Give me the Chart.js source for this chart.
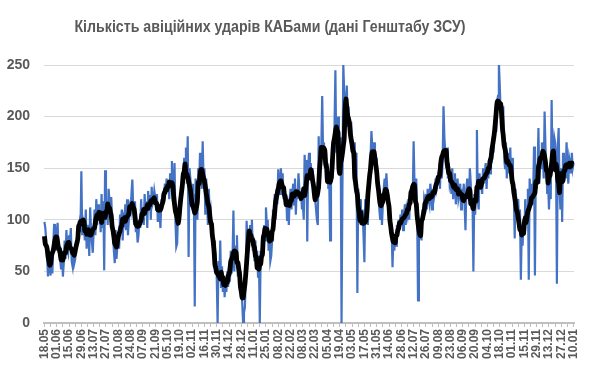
<!DOCTYPE html>
<html>
<head>
<meta charset="utf-8">
<script src="https://cdn.jsdelivr.net/npm/chart.js@4.4.1/dist/chart.umd.min.js"></script>
<style>
  body { margin: 0; background: #fff; }
  #wrap { position: relative; width: 590px; height: 376px; }
  #titulo {
    position: absolute; left: 0; width: 540px; top: 17px;
    text-align: center; font: bold 17px "Liberation Sans", sans-serif;
    color: #595959; white-space: nowrap;
    transform: scaleX(0.835); transform-origin: 270px 0;
  }
</style>
</head>
<body>
<div id="wrap">
  <div id="titulo">Кількість авіційних ударів КАБами (дані Генштабу ЗСУ)</div>
  <canvas id="myChart" width="590" height="376"></canvas>
</div>
<script>
// початок ряду та крок підписів
var startDate = Date.UTC(2024, 4, 18);
var tickEvery = 14;   // підпис кожні 14 днів
var markEvery = 7;    // засічки кожні 7 днів
var yTicks = [0, 50, 100, 150, 200, 250];

// кількість ударів КАБами по днях (оцінка з графіка)
var strikes = [
  98, 92, 80, 66, 45, 70, 55, 46, 62, 48, 75, 95, 96, 70,
  82, 97, 68, 75, 60, 52, 70, 45, 58, 80, 62, 90, 72, 68,
  85, 78, 92, 60, 55, 70, 58, 62, 80, 74, 90, 85, 95, 88,
  147, 85, 98, 92, 80, 110, 72, 88, 95, 65, 112, 90, 78, 68,
  90, 110, 85, 120, 95, 115, 100, 108, 88, 125, 92, 118, 51, 148,
  100, 112, 95, 130, 118, 105, 122, 98, 85, 70, 58, 90, 62, 75,
  88, 72, 105, 95, 110, 80, 102, 98, 115, 90, 120, 85, 100, 112,
  108, 125, 139, 112, 96, 118, 88, 95, 78, 85, 100, 92, 120, 98,
  110, 95, 125, 105, 118, 92, 128, 110, 124, 100, 132, 115, 118, 128,
  122, 110, 125, 98, 115, 105, 92, 120, 110, 128, 118, 135, 125, 140,
  128, 135, 120, 145, 132, 157, 118, 125, 155, 100, 74, 77, 110, 95,
  102, 118, 130, 145, 138, 160, 150, 170, 135, 181, 64, 150, 140, 125,
  135, 110, 125, 16, 140, 120, 100, 150, 135, 165, 145, 130, 176, 140,
  150, 105, 140, 120, 95, 130, 105, 110, 92, 85, 70, 80, 55, 60,
  45, 0, 60, 40, 80, 35, 55, 30, 45, 25, 40, 30, 50, 35,
  55, 40, 70, 48, 62, 109, 50, 75, 60, 85, 45, 55, 40, 50,
  35, 20, 0, 10, 15, 40, 99, 75, 90, 80, 95, 85, 100, 70,
  75, 60, 80, 55, 70, 45, 65, 0, 70, 60, 85, 75, 95, 80,
  112, 95, 100, 70, 85, 60, 65, 80, 110, 95, 125, 100, 130, 115,
  149, 140, 125, 150, 135, 145, 120, 130, 115, 125, 100, 118, 95, 120,
  130, 110, 125, 135, 115, 140, 105, 130, 120, 145, 130, 118, 125, 110,
  115, 100, 163, 140, 158, 79, 150, 165, 145, 155, 140, 150, 135, 125,
  120, 110, 100, 95, 181, 130, 150, 170, 220, 165, 175, 150, 160, 145,
  155, 130, 140, 80, 150, 160, 140, 175, 190, 245, 165, 180, 200, 175,
  150, 180, 0, 130, 250, 225, 215, 200, 230, 190, 210, 185, 175, 195,
  170, 160, 150, 175, 140, 165, 29, 130, 110, 120, 95, 100, 110, 85,
  59, 120, 105, 110, 95, 130, 150, 160, 186, 170, 155, 175, 165, 150,
  160, 140, 125, 110, 100, 120, 95, 115, 130, 140, 125, 145, 130, 120,
  110, 100, 95, 90, 54, 85, 70, 80, 75, 95, 85, 100, 90, 105,
  95, 110, 90, 100, 115, 95, 110, 105, 120, 100, 125, 115, 130, 120,
  176, 135, 125, 140, 110, 22, 100, 95, 85, 80, 110, 100, 120, 115,
  125, 110, 130, 120, 115, 135, 125, 110, 130, 120, 125, 140, 130, 135,
  145, 150, 130, 160, 140, 155, 210, 180, 165, 150, 170, 140, 155, 135,
  140, 125, 150, 120, 135, 145, 115, 130, 140, 120, 125, 135, 110, 130,
  120, 135, 115, 90, 130, 140, 125, 120, 150, 135, 110, 120, 50, 125,
  105, 130, 187, 120, 110, 145, 130, 140, 125, 150, 135, 145, 155, 130,
  150, 140, 160, 145, 170, 155, 180, 165, 195, 200, 185, 215, 220, 252,
  230, 205, 190, 180, 210, 160, 150, 175, 140, 165, 145, 155, 170, 135,
  160, 140, 125, 82, 130, 115, 100, 120, 95, 110, 42, 90, 75, 100,
  85, 120, 95, 110, 130, 42, 140, 120, 135, 115, 125, 171, 46, 150,
  130, 145, 189, 135, 160, 150, 175, 165, 140, 205, 170, 150, 125, 135,
  110, 140, 120, 216, 150, 165, 180, 175, 160, 38, 170, 189, 130, 110,
  150, 98, 165, 145, 160, 140, 175, 150, 135, 160, 155, 145, 165, 150,
  155
];

// дати dd.mm
var dias = [];
for (var i = 0; i < strikes.length; i++) {
  var d = new Date(startDate + i * 86400000);
  var dd = ("0" + d.getUTCDate()).slice(-2);
  var mm = ("0" + (d.getUTCMonth() + 1)).slice(-2);
  dias.push(dd + "." + mm);
}

// ковзне середнє за 7 днів (центроване)
var media7 = [];
for (var i = 0; i < strikes.length; i++) {
  var s = 0, n = 0;
  for (var j = i - 3; j <= i + 3; j++) {
    if (j >= 0 && j < strikes.length) { s += strikes[j]; n++; }
  }
  media7.push(s / n);
}

var gris = '#595959';

new Chart(document.getElementById('myChart'), {
  type: 'line',
  data: {
    labels: dias,
    datasets: [
      {
        label: 'Середнє 7 днів',
        data: media7,
        borderColor: '#000000',
        borderWidth: 4.8,
        pointRadius: 0,
        tension: 0.3,
        order: 0
      },
      {
        label: 'Удари КАБами',
        data: strikes,
        borderColor: '#4472C4',
        borderWidth: 2.2,
        pointRadius: 0,
        tension: 0,
        order: 1
      }
    ]
  },
  options: {
    responsive: false,
    animation: false,
    layout: { padding: { top: 65, right: 1, left: 0, bottom: 0 } },
    plugins: {
      legend: { display: false },
      tooltip: { enabled: false }
    },
    scales: {
      x: {
        offset: true,
        grid: {
          drawOnChartArea: false,
          drawTicks: true,
          tickLength: 4,
          color: '#bfbfbf'
        },
        border: { display: true, color: '#bfbfbf', width: 2 },
        ticks: {
          autoSkip: false,
          maxRotation: 90,
          minRotation: 90,
          padding: 2,
          color: gris,
          font: { family: 'Liberation Sans', size: 12, weight: 'bold' },
          callback: function (val, idx) {
            if (idx % tickEvery === 0) return dias[idx];
            if (idx % markEvery === 0) return '';
            return null;
          }
        },
        afterFit: function (axis) { axis.height = 53; }
      },
      y: {
        min: 0,
        max: 250,
        afterBuildTicks: function (axis) {
          axis.ticks = yTicks.map(function (v) { return { value: v }; });
        },
        grid: { color: '#d9d9d9', drawTicks: false },
        border: { display: false },
        ticks: {
          padding: 14,
          color: gris,
          font: { family: 'Liberation Sans', size: 14, weight: 'bold' }
        },
        afterFit: function (axis) { axis.width = 44; }
      }
    }
  }
});
</script>
</body>
</html>
